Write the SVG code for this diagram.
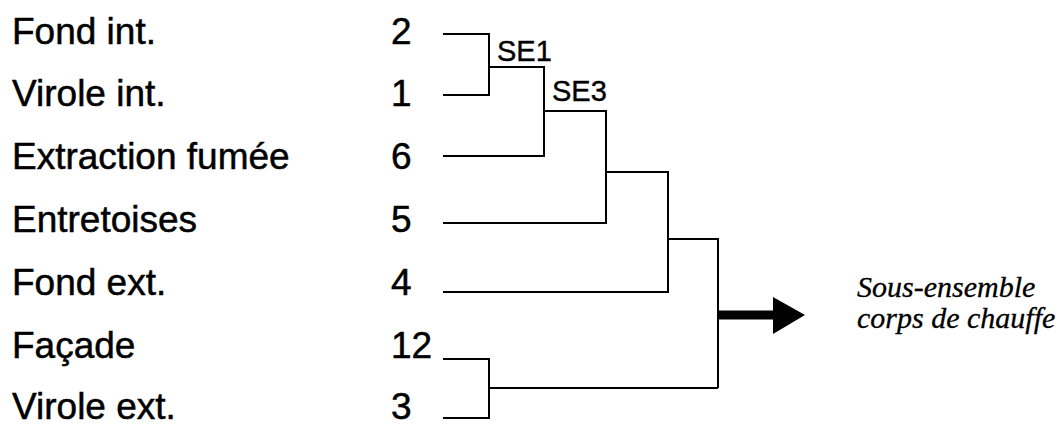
<svg xmlns="http://www.w3.org/2000/svg" width="1061" height="426" viewBox="0 0 1061 426">
  <style>
    .lbl { font-family: "Liberation Sans", Arial, sans-serif; font-size: 37px; fill: #000; stroke: #000; stroke-width: 0.5; }
    .se { font-family: "Liberation Sans", Arial, sans-serif; font-size: 29px; fill: #000; stroke: #000; stroke-width: 0.4; }
    .out { font-family: "Liberation Serif", "Times New Roman", serif; font-style: italic; font-size: 30px; fill: #000; stroke: #000; stroke-width: 0.3; }
    .wire { fill: none; stroke: #000; stroke-width: 2; }
  </style>
  <rect width="1061" height="426" fill="#fff"/>

  <!-- parts: name and reference number -->
  <g id="part-2"><text class="lbl" x="12" y="44">Fond int.</text><text class="lbl" x="391" y="44">2</text></g>
  <g id="part-1"><text class="lbl" x="12" y="106">Virole int.</text><text class="lbl" x="391" y="106">1</text></g>
  <g id="part-6"><text class="lbl" x="12" y="169">Extraction fumée</text><text class="lbl" x="391" y="169">6</text></g>
  <g id="part-5"><text class="lbl" x="12" y="232">Entretoises</text><text class="lbl" x="391" y="232">5</text></g>
  <g id="part-4"><text class="lbl" x="12" y="295">Fond ext.</text><text class="lbl" x="391" y="295">4</text></g>
  <g id="part-12"><text class="lbl" x="12" y="358">Façade</text><text class="lbl" x="391" y="358">12</text></g>
  <g id="part-3"><text class="lbl" x="12" y="419">Virole ext.</text><text class="lbl" x="391" y="419">3</text></g>

  <!-- sub-assembly labels -->
  <g id="se1"><text class="se" x="497" y="61">SE1</text></g>
  <g id="se3"><text class="se" x="552" y="101">SE3</text></g>

  <!-- assembly tree -->
  <g id="connectors" class="wire">
    <path d="M443,34 H489 V95 H443"/>
    <path d="M489,67 H544 V156 H443"/>
    <path d="M544,111 H606 V223 H443"/>
    <path d="M606,172 H668 V292 H443"/>
    <path d="M668,239 H718 V388"/>
    <path d="M443,359 H489 V418 H443"/>
    <path d="M489,388 H718"/>
    <path d="M718,315 H776" stroke-width="9"/>
    <polygon points="773,297 805,315 773,334" fill="#000" stroke="none"/>
  </g>

  <!-- resulting sub-assembly -->
  <g id="result">
    <text class="out" x="857" y="297">Sous-ensemble</text>
    <text class="out" x="857" y="328">corps de chauffe</text>
  </g>
</svg>
